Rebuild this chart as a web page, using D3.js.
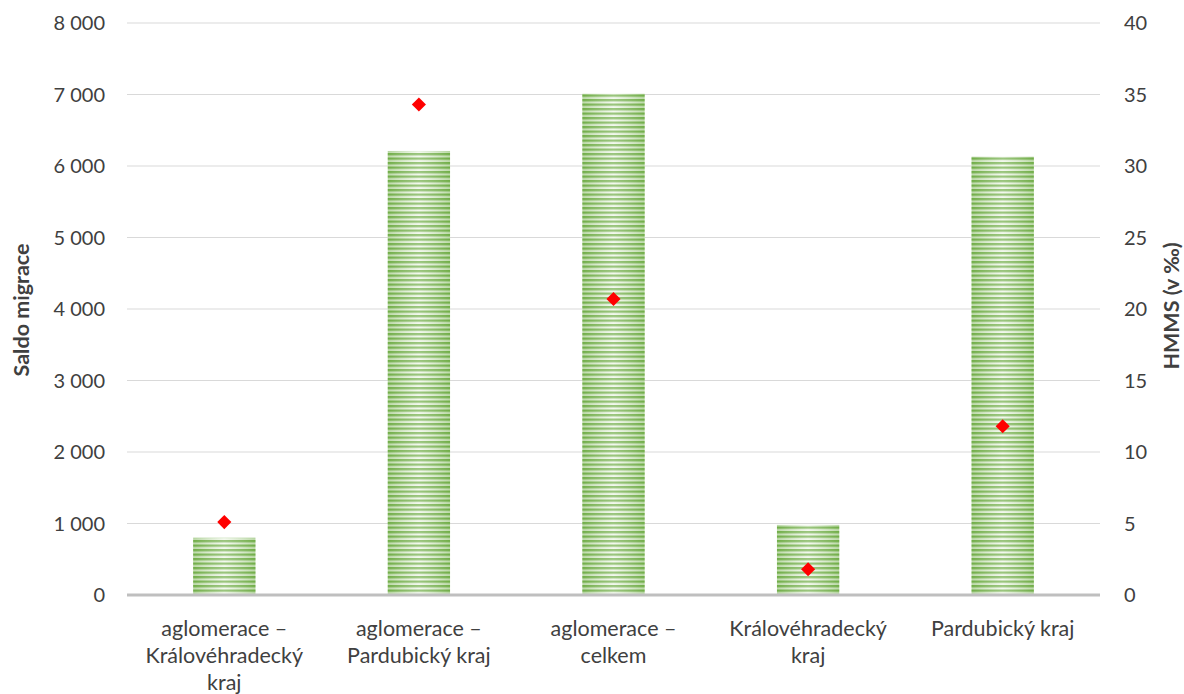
<!DOCTYPE html>
<html><head><meta charset="utf-8">
<script src="https://cdn.jsdelivr.net/npm/d3@7"></script>
<style>body{margin:0;background:#fff}svg{display:block;font-family:Lato,"Open Sans",sans-serif}</style>
</head><body>
<svg id="c" width="1184" height="694"></svg>
<script>
const categories = [["aglomerace –","Královéhradecký","kraj"],["aglomerace –","Pardubický kraj"],["aglomerace –","celkem"],["Královéhradecký","kraj"],["Pardubický kraj"]];
const saldo = [800, 6210, 7010, 980, 6130];
const hmms = [5.1, 34.3, 20.7, 1.8, 11.8];
const leftTicks = [0,1000,2000,3000,4000,5000,6000,7000,8000];
const rightTicks = [0,5,10,15,20,25,30,35,40];

const svg = d3.select("#c");
const x0 = 127, x1 = 1100, yTop = 23, yBot = 595;
const x = d3.scaleBand().domain(d3.range(categories.length)).range([x0,x1]).paddingInner(0.68).paddingOuter(0.34);
const yL = d3.scaleLinear().domain([0,8000]).range([yBot,yTop]);
const yR = d3.scaleLinear().domain([0,40]).range([yBot,yTop]);

const defs = svg.append("defs");
const pat = defs.append("pattern").attr("id","stripes").attr("patternUnits","userSpaceOnUse").attr("width",8).attr("height",4.5);
pat.append("rect").attr("width",8).attr("height",4.5).attr("fill","#eef6e8");
pat.append("rect").attr("width",8).attr("height",2.3).attr("fill","#70ad47");
const g = defs.append("linearGradient").attr("id","shade").attr("x1",0).attr("x2",1).attr("y1",0).attr("y2",0);
g.append("stop").attr("offset","0%").attr("stop-color","#70ad47").attr("stop-opacity",0.4);
g.append("stop").attr("offset","50%").attr("stop-color","#ffffff").attr("stop-opacity",0.3);
g.append("stop").attr("offset","100%").attr("stop-color","#70ad47").attr("stop-opacity",0.4);

const fmt = v => d3.format(",")(v).replace(/,/g," ");
const tc = "#404040", fs = 20;

// gridlines
svg.append("g").selectAll("line").data(leftTicks.filter(d=>d>0)).join("line")
  .attr("x1",x0).attr("x2",x1).attr("y1",d=>yL(d)).attr("y2",d=>yL(d))
  .attr("stroke","#d9d9d9").attr("stroke-width",1);

// bars
const bars = svg.append("g");
bars.selectAll("rect.b").data(saldo).join("rect").attr("class","b")
  .attr("x",(d,i)=>x(i)).attr("width",x.bandwidth())
  .attr("y",d=>yL(d)).attr("height",d=>yBot-yL(d)).attr("fill","url(#stripes)");
bars.selectAll("rect.s").data(saldo).join("rect").attr("class","s")
  .attr("x",(d,i)=>x(i)).attr("width",x.bandwidth())
  .attr("y",d=>yL(d)).attr("height",d=>yBot-yL(d)).attr("fill","url(#shade)");

// axis line
svg.append("line").attr("x1",x0).attr("x2",x1).attr("y1",yBot).attr("y2",yBot).attr("stroke","#bfbfbf").attr("stroke-width",3);

// markers
svg.append("g").selectAll("path").data(hmms).join("path")
  .attr("d",d3.symbol().type(d3.symbolSquare).size(100))
  .attr("transform",(d,i)=>`translate(${x(i)+x.bandwidth()/2},${yR(d)}) rotate(45)`)
  .attr("fill","#ff0000");

// left ticks
svg.append("g").selectAll("text").data(leftTicks).join("text")
  .attr("x",105).attr("y",d=>yL(d)).attr("dy","0.35em").attr("text-anchor","end")
  .attr("font-size",fs).attr("fill",tc).text(fmt);
// right ticks
svg.append("g").selectAll("text").data(rightTicks).join("text")
  .attr("x",1124).attr("y",d=>yR(d)).attr("dy","0.35em").attr("text-anchor","start")
  .attr("font-size",fs).attr("fill",tc).text(d=>d);

// category labels
const cl = svg.append("g").selectAll("text").data(categories).join("text")
  .attr("x",(d,i)=>x(i)+x.bandwidth()/2).attr("y",628).attr("dy","0.35em")
  .attr("text-anchor","middle").attr("font-size",21.5).attr("fill",tc);
cl.selectAll("tspan").data(d=>d).join("tspan")
  .attr("x",function(){return this.parentNode.getAttribute("x");})
  .attr("dy",(d,i)=>i===0?"0.35em":"27px").text(d=>d);

// axis titles
svg.append("text").attr("transform","translate(29,310) rotate(-90)").attr("text-anchor","middle")
  .attr("font-size",21.5).attr("font-weight","bold").attr("fill",tc).text("Saldo migrace");
svg.append("text").attr("transform","translate(1179,306) rotate(-90)").attr("text-anchor","middle")
  .attr("font-size",21.5).attr("font-weight","bold").attr("fill",tc).text("HMMS (v ‰)");
</script>
</body></html>
